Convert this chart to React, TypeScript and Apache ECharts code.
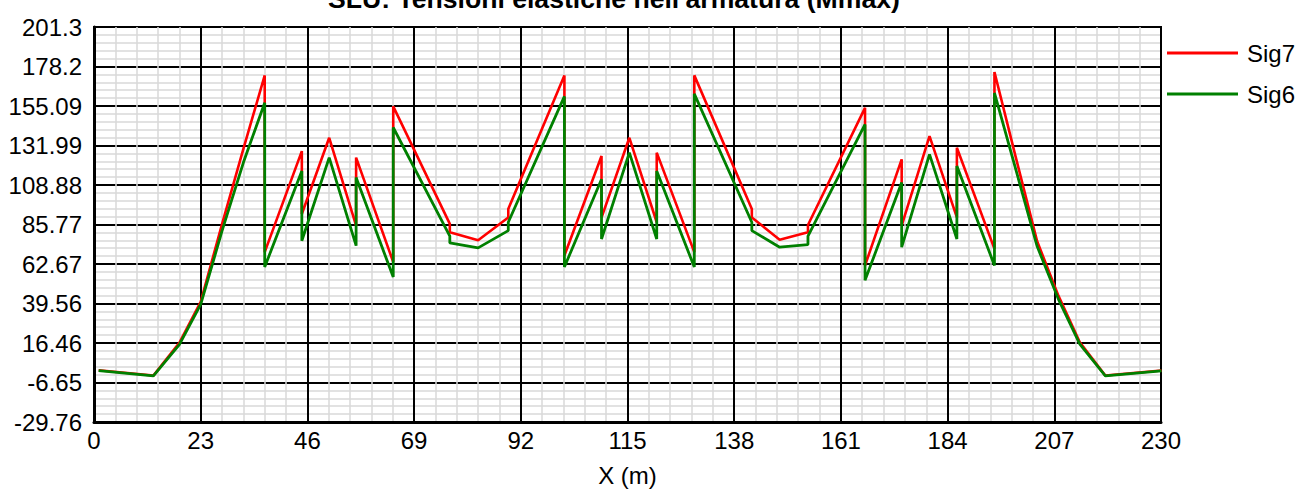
import React, { useEffect, useRef } from "react";
import * as echarts from "echarts";

const titleText = "SLU: Tensioni elastiche nell'armatura (Mmax)";
const xAxisName = "X (m)";
const xTickLabels = [0, 23, 46, 69, 92, 115, 138, 161, 184, 207, 230];
const yTickLabels = ["-29.76", "-6.65", "16.46", "39.56", "62.67", "85.77", "108.88", "131.99", "155.09", "178.2", "201.3"];
const seriesNames = ["Sig7", "Sig6"];

// Sig7 (red): [x (m), tension]
const sig7Points: [number, number][] = [
  [1.0, 0.5], [12.8, -2.6], [18.4, 16.5], [23.0, 40.5], [27.6, 86.0], [32.2, 130.0], [36.8, 173.0],
  [36.8, 69.6], [44.8, 128.7], [44.8, 91.9], [50.7, 136.5], [56.5, 85.1], [56.5, 124.9],
  [64.5, 63.8], [64.5, 154.9], [76.7, 86.1], [76.7, 81.2], [82.8, 76.6], [89.3, 89.9], [89.3, 94.8],
  [101.4, 173.0], [101.4, 67.6], [109.4, 125.8], [109.4, 89.8], [115.4, 136.5], [121.3, 87.1], [121.3, 127.8],
  [129.4, 69.6], [129.4, 173.0], [141.8, 94.8], [141.8, 89.9], [147.8, 76.9], [153.9, 81.2], [153.9, 85.5],
  [166.2, 154.0], [166.2, 61.8], [174.1, 123.9], [174.1, 85.1], [180.1, 137.5], [186.0, 89.9], [186.0, 130.7],
  [194.1, 71.5], [194.1, 175.0], [198.7, 125.0], [203.3, 76.0], [207.9, 44.0], [212.5, 16.8], [218.0, -2.6], [230.1, 0.4],
];

// Sig6 (green): [x (m), tension]
const sig6Points: [number, number][] = [
  [1.0, 0.3], [12.8, -2.8], [18.4, 15.5], [23.0, 39.0], [27.6, 82.0], [32.2, 122.0], [36.8, 157.0],
  [36.8, 60.9], [44.8, 117.1], [44.8, 76.3], [50.7, 124.9], [56.5, 73.4], [56.5, 113.3],
  [64.5, 55.0], [64.5, 142.5], [76.7, 79.0], [76.7, 75.0], [82.8, 72.1], [89.3, 82.2], [89.3, 87.1],
  [101.4, 160.7], [101.4, 60.9], [109.4, 112.2], [109.4, 77.3], [115.4, 127.8], [121.3, 77.3], [121.3, 117.1],
  [129.4, 60.9], [129.4, 162.2], [141.8, 87.1], [141.8, 82.2], [147.8, 72.5], [153.9, 74.0], [153.9, 79.0],
  [166.2, 144.3], [166.2, 53.1], [174.1, 110.3], [174.1, 72.5], [180.1, 126.8], [186.0, 77.3], [186.0, 120.0],
  [194.1, 61.8], [194.1, 162.7], [198.7, 118.0], [203.3, 73.0], [207.9, 42.0], [212.5, 15.8], [218.0, -2.8], [230.1, 0.1],
];

const FONT = "'Liberation Sans', Arial, Helvetica, sans-serif";

export default function App() {
  const ref = useRef<HTMLDivElement>(null);

  useEffect(() => {
    if (!ref.current) return;
    const chart = echarts.init(ref.current, undefined, { renderer: "svg" });

    const xMin = xTickLabels[0];
    const xMax = xTickLabels[xTickLabels.length - 1];
    const xInterval = xTickLabels[1] - xTickLabels[0];
    const yMin = parseFloat(yTickLabels[0]);
    const yMax = parseFloat(yTickLabels[yTickLabels.length - 1]);
    const yInterval = Math.round(((yMax - yMin) / (yTickLabels.length - 1)) * 1e6) / 1e6;

    chart.setOption({
      animation: false,
      backgroundColor: "#ffffff",
      title: {
        text: titleText,
        left: 328,
        top: -15,
        padding: 0,
        textStyle: { fontFamily: FONT, fontSize: 26.6, fontWeight: "bold", color: "#000" },
      },
      legend: {
        orient: "vertical",
        left: 1167,
        top: 41,
        padding: 0,
        itemWidth: 71,
        itemHeight: 3,
        itemGap: 17,
        textStyle: { fontFamily: FONT, fontSize: 24, color: "#000", padding: [0, 0, 0, 4] },
        data: [
          { name: seriesNames[0], icon: "rect", itemStyle: { color: "#ff0000" } },
          { name: seriesNames[1], icon: "rect", itemStyle: { color: "#008000" } },
        ],
      },
      grid: {
        left: 94,
        right: 139,
        top: 27,
        bottom: 68,
        show: true,
        borderColor: "#000",
        borderWidth: 2,
        backgroundColor: "#fff",
      },
      xAxis: {
        type: "value",
        min: xMin,
        max: xMax,
        interval: xInterval,
        name: xAxisName,
        nameLocation: "middle",
        nameGap: 41,
        nameTextStyle: { fontFamily: FONT, fontSize: 24, color: "#000" },
        axisLine: { show: true, onZero: false, lineStyle: { color: "#000", width: 3 } },
        axisTick: { show: false },
        axisLabel: {
          fontFamily: FONT,
          fontSize: 24,
          color: "#000",
          margin: 6,
          formatter: (v: number) => String(Math.round(v)),
        },
        splitLine: { show: true, lineStyle: { color: "#000", width: 2 } },
        minorTick: { show: false, splitNumber: 5 },
        minorSplitLine: { show: true, lineStyle: { color: "#d9d9d9", width: 1.5 } },
      },
      yAxis: {
        type: "value",
        min: yMin,
        max: yMax,
        interval: yInterval,
        axisLine: { show: true, onZero: false, lineStyle: { color: "#000", width: 3 } },
        axisTick: { show: false },
        axisLabel: {
          fontFamily: FONT,
          fontSize: 24,
          color: "#000",
          margin: 12,
          formatter: (v: number) => {
            const i = Math.round((v - yMin) / yInterval);
            return yTickLabels[i] ?? "";
          },
        },
        splitLine: { show: true, lineStyle: { color: "#000", width: 2 } },
        minorTick: { show: false, splitNumber: 5 },
        minorSplitLine: { show: true, lineStyle: { color: "#d9d9d9", width: 1.5 } },
      },
      series: [
        {
          name: seriesNames[0],
          type: "line",
          data: sig7Points,
          symbol: "none",
          showSymbol: false,
          color: "#ff0000",
          lineStyle: { color: "#ff0000", width: 2.6 },
          z: 3,
        },
        {
          name: seriesNames[1],
          type: "line",
          data: sig6Points,
          symbol: "none",
          showSymbol: false,
          color: "#008000",
          lineStyle: { color: "#008000", width: 2.8 },
          z: 4,
        },
      ],
    });

    return () => {
      chart.dispose();
    };
  }, []);

  return (
    <div
      ref={ref}
      style={{ position: "fixed", left: 0, top: 0, width: 1300, height: 492, background: "#fff" }}
    />
  );
}
